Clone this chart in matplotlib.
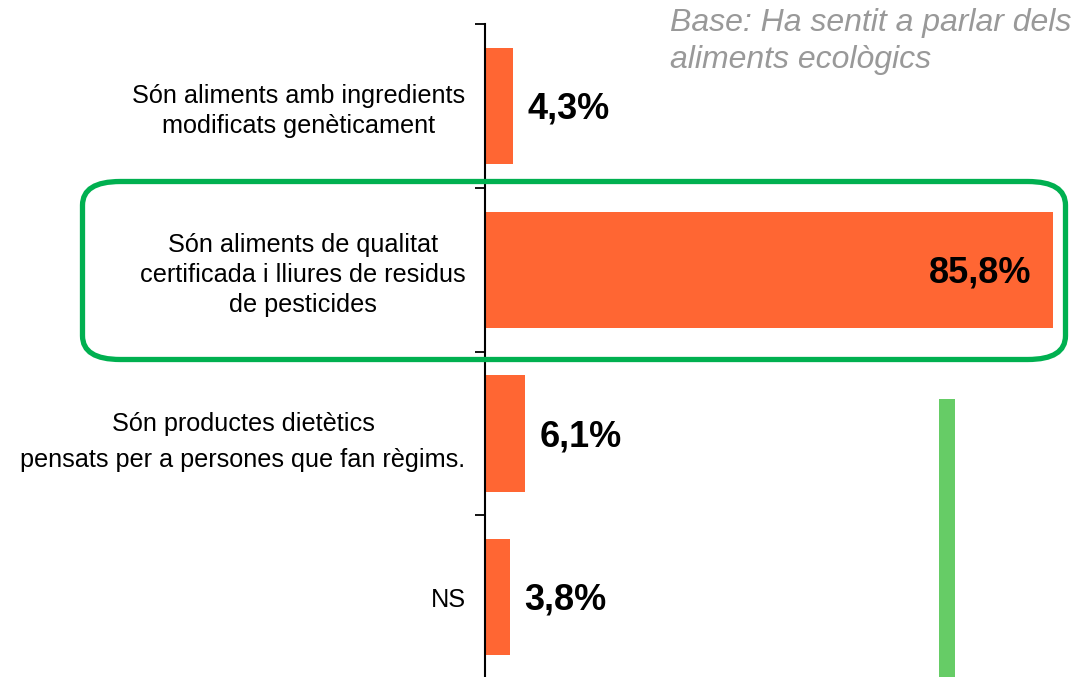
import matplotlib.pyplot as plt
from matplotlib.patches import FancyBboxPatch, Rectangle

plt.rcParams['font.family'] = ['Liberation Sans', 'DejaVu Sans']

# Dades
categories = [
    "Són aliments amb ingredients\nmodificats genèticament",
    "Són aliments de qualitat\ncertificada i lliures de residus\nde pesticides",
    "Són productes dietètics\npensats per a persones que fan règims.",
    "NS",
]
values = [4.3, 85.8, 6.1, 3.8]
value_labels = ["4,3%", "85,8%", "6,1%", "3,8%"]
base_note = "Base: Ha sentit a parlar dels\naliments ecològics"

W, H = 1079, 677
fig = plt.figure(figsize=(W / 100, H / 100), dpi=100)
fig.patch.set_facecolor('white')

ax = fig.add_axes([485 / W, -0.003, 1 - 485 / W, 0.9675])
y = list(range(len(categories)))
ax.barh(y, values, height=0.71, color='#FF6633', edgecolor='none')
ax.set_ylim(len(categories) - 0.5, -0.5)
ax.set_xlim(0, (W - 485) / 6.62)

ax.set_yticks([i - 0.5 for i in range(len(categories) + 1)])
ax.set_yticklabels([])
ax.set_yticks(y, minor=True)
ax.set_yticklabels(categories, minor=True, fontsize=18.2, ha='right',
                   multialignment='center', linespacing=1.3)
# la tercera etiqueta té més interlineat a l'original
ax.get_yticklabels(minor=True)[2].set_linespacing(1.65)
ax.tick_params(axis='y', which='minor', length=0, pad=14)
ax.tick_params(axis='y', which='major', length=7, width=1.3, color='black')
ax.set_xticks([])
for s in ['top', 'right', 'bottom']:
    ax.spines[s].set_visible(False)
ax.spines['left'].set_linewidth(1.5)

for i, (v, lab) in enumerate(zip(values, value_labels)):
    if v > 50:
        ax.text(v - 3.3, i + 0.02, lab, ha='right', va='center',
                fontsize=26, fontweight='bold', color='black')
    else:
        ax.text(v + 2.1, i + 0.02, lab, ha='left', va='center',
                fontsize=26, fontweight='bold', color='black')

# Caixa verda destacant la categoria principal
box = FancyBboxPatch((82.5 / W, 1 - 359.5 / H), (1065.5 - 82.5) / W, (359.5 - 181.5) / H,
                     boxstyle="round,pad=0,rounding_size=0.035",
                     transform=fig.transFigure, fill=False,
                     edgecolor='#00B050', linewidth=3.8, zorder=5)
fig.patches.append(box)

# Barra verda vertical
fig.patches.append(Rectangle((939 / W, 0), 16 / W, 1 - 399 / H,
                             transform=fig.transFigure, facecolor='#66CC66',
                             edgecolor='none'))

fig.text(670 / W, 1 - 8 / H, base_note, ha='left', va='top', fontsize=23,
         style='italic', color='#999999', linespacing=1.3)

fig.savefig('out.png', dpi=100)
